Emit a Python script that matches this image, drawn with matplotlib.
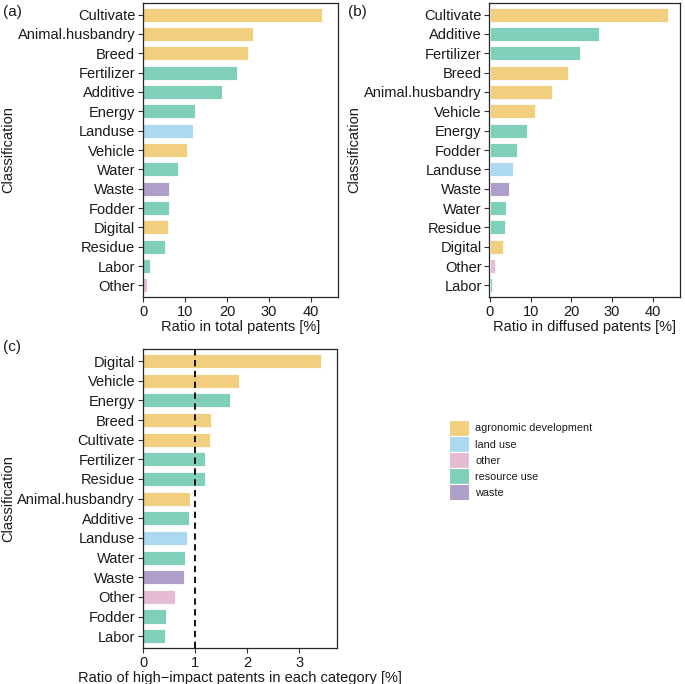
import matplotlib

matplotlib.use("Agg")
import matplotlib.pyplot as plt
from matplotlib.patches import Patch

plt.rcParams["font.family"] = ["Liberation Sans", "DejaVu Sans"]

# Panel data, read top to bottom as drawn
TOTAL_NAMES = ["Cultivate", "Animal.husbandry", "Breed", "Fertilizer", "Additive", "Energy",
               "Landuse", "Vehicle", "Water", "Waste", "Fodder", "Digital", "Residue",
               "Labor", "Other"]
TOTAL_VALS = [42.6, 26.2, 25.0, 22.4, 18.8, 12.4, 11.9, 10.5, 8.3, 6.1, 6.0, 5.8, 5.1, 1.6, 0.9]

DIFF_NAMES = ["Cultivate", "Additive", "Fertilizer", "Breed", "Animal.husbandry", "Vehicle",
              "Energy", "Fodder", "Landuse", "Waste", "Water", "Residue", "Digital",
              "Other", "Labor"]
DIFF_VALS = [43.7, 26.7, 22.2, 19.1, 15.3, 11.2, 9.2, 6.7, 5.7, 4.8, 3.9, 3.6, 3.1, 1.3, 0.4]

HIGH_NAMES = ["Digital", "Vehicle", "Energy", "Breed", "Cultivate", "Fertilizer", "Residue",
              "Animal.husbandry", "Additive", "Landuse", "Water", "Waste", "Other",
              "Fodder", "Labor"]
HIGH_VALS = [3.41, 1.84, 1.67, 1.31, 1.29, 1.19, 1.18, 0.90, 0.88, 0.84, 0.80, 0.78, 0.62,
             0.43, 0.41]

GROUP = {
    "Cultivate": "agronomic development", "Animal.husbandry": "agronomic development",
    "Breed": "agronomic development", "Vehicle": "agronomic development",
    "Digital": "agronomic development", "Landuse": "land use", "Other": "other",
    "Fertilizer": "resource use", "Additive": "resource use", "Energy": "resource use",
    "Water": "resource use", "Fodder": "resource use", "Residue": "resource use",
    "Labor": "resource use", "Waste": "waste",
}
GROUP_ORDER = ["agronomic development", "land use", "other", "resource use", "waste"]
COLORS = {
    "agronomic development": "#F1CF7F",
    "land use": "#ADD8F1",
    "other": "#E6BCD5",
    "resource use": "#80CFBA",
    "waste": "#AE9ECA",
}

TXT = "0.1"
W, H = 685, 684


def bar_panel(ax, names, vals, xlim, xticks, xlabel, ylab_x):
    n = len(names)
    ypos = [n - 1 - i for i in range(n)]
    ax.barh(ypos, vals, height=0.72, color=[COLORS[GROUP[k]] for k in names],
            edgecolor="white", linewidth=0.6, zorder=2)
    ax.set_yticks(ypos)
    ax.set_yticklabels(names)
    ax.set_ylim(-0.6, n - 0.4)
    ax.set_xlim(*xlim)
    ax.set_xticks(xticks)
    ax.tick_params(axis="both", labelsize=10.5, length=3.5, width=0.8, color="0.2",
                   labelcolor=TXT, pad=2)
    ax.set_xlabel(xlabel, fontsize=10.5, color=TXT, labelpad=0.8)
    ax.set_ylabel("Classification", fontsize=10.5, color=TXT)
    # y title's right edge sits at pixel ylab_x, as in the reference
    box = ax.get_position()
    ax.yaxis.set_label_coords((ylab_x / W - box.x0) / box.width, 0.5)
    for s in ax.spines.values():
        s.set_linewidth(0.9)
        s.set_color("0.15")
    return ax


fig = plt.figure(figsize=(6.85, 6.84), dpi=100)
ax_a = fig.add_axes([143 / W, 1 - 297 / H, 195 / W, 294 / H])
ax_b = fig.add_axes([489.3 / W, 1 - 297 / H, 190.7 / W, 294 / H])
ax_c = fig.add_axes([142.7 / W, 1 - 648 / H, 194.6 / W, 298.7 / H])

bar_panel(ax_a, TOTAL_NAMES, TOTAL_VALS, (-0.1, 46.5), [0, 10, 20, 30, 40],
          "Ratio in total patents [%]", 15)
bar_panel(ax_b, DIFF_NAMES, DIFF_VALS, (-0.15, 46.7), [0, 10, 20, 30, 40],
          "Ratio in diffused patents [%]", 361)
bar_panel(ax_c, HIGH_NAMES, HIGH_VALS, (-0.01, 3.73), [0, 1, 2, 3],
          "Ratio of high\u2212impact patents in each category [%]", 15)
ax_c.axvline(1, color="black", ls=(0, (3.5, 2.5)), lw=1.3, zorder=3)

fig.text(0.004, 0.983, "(a)", fontsize=11, color=TXT, va="center", ha="left")
fig.text(0.508, 0.983, "(b)", fontsize=11, color=TXT, va="center", ha="left")
fig.text(0.004, 0.492, "(c)", fontsize=11, color=TXT, va="center", ha="left")

handles = [Patch(facecolor=COLORS[g], edgecolor="white", linewidth=0.8, label=g)
           for g in GROUP_ORDER]
fig.legend(handles=handles, loc="upper left", bbox_to_anchor=(449 / W, 1 - 420 / H),
           frameon=False, fontsize=7.8, handlelength=1.8, handleheight=1.9,
           labelspacing=0.0, handletextpad=0.6, borderpad=0, borderaxespad=0,
           labelcolor=TXT)

fig.savefig("out.png", dpi=100)
